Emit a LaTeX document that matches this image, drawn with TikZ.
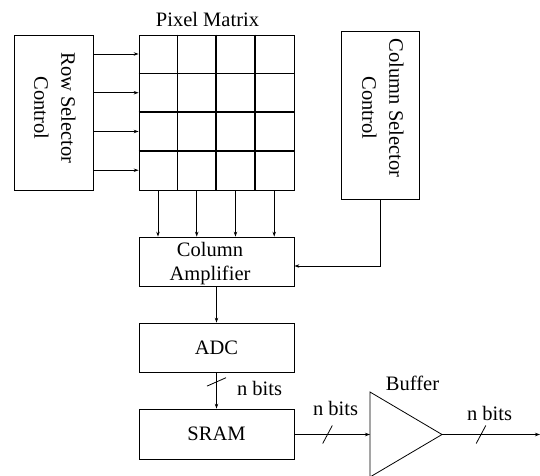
\documentclass[tikz,border=0pt]{standalone}
\usepackage{fontspec}
\setmainfont{Liberation Serif}
\usetikzlibrary{arrows.meta,calc}
\begin{document}
\begin{tikzpicture}[x=1pt,y=-1pt,
  font=\fontsize{20.5}{24}\selectfont,
  line width=0.8pt,
  box/.style={draw, inner sep=0pt, align=center},
  lbl/.style={inner sep=0pt, anchor=base},
  rlbl/.style={inner sep=0pt, rotate=-90, align=center, font=\fontsize{20.5}{27}\selectfont},
  gridline/.style={line width=1.3pt},
  arr/.style={-{Stealth[length=5pt,width=3.5pt]}},
  slash/.style={line width=0.8pt}]
\useasboundingbox (0,0) rectangle (540,475);

% boxes
\node[box, minimum width=79pt, minimum height=155pt] (row) at (53.5,112.5) {};
\node[rlbl] (rowtxt) at (55,108) {Row Selector\\Control};
\node[box, minimum width=155pt, minimum height=155pt] (mat) at (216.5,112.5) {};
\node[lbl] (mattxt) at (207.5,26) {Pixel Matrix};
\node[box, minimum width=78pt, minimum height=168pt] (col) at (380,115) {};
\node[rlbl] (coltxt) at (383,108) {Column Selector\\Control};
\node[box, minimum width=155pt, minimum height=49pt] (amp) at (216.5,261.5) {};
\node[lbl, align=center] (amptxt) at (210,280.5) {Column\\Amplifier};
\node[box, minimum width=155pt, minimum height=49pt] (adc) at (216.5,347.5) {ADC};
\node[box, minimum width=155pt, minimum height=50pt] (sram) at (216.5,434) {SRAM};

% grid of the pixel matrix
\foreach \i in {1,2,3} {
  \draw[gridline] ($(mat.north west)+(38.75*\i,0)$) -- ($(mat.south west)+(38.75*\i,0)$);
  \draw[gridline] ($(mat.north west)+(0,38.75*\i)$) -- ($(mat.north east)+(0,38.75*\i)$);
}

% row select arrows
\foreach \i in {0,1,2,3} {
  \coordinate (r\i) at ($(mat.north west)+(0,19.375+38.75*\i)$);
  \draw[arr] (row.east |- r\i) -- (r\i);
}
% column arrows
\foreach \i in {0,1,2,3} {
  \coordinate (c\i) at ($(mat.south west)+(19.375+38.75*\i,0)$);
  \draw[arr] (c\i) -- (amp.north -| c\i);
}

% column selector to amplifier
\coordinate (ampin) at ($(amp.east)+(0,4.5)$);
\draw[arr] (col.south) |- (ampin);

% amplifier -> ADC -> SRAM
\draw[arr] (amp.south) -- (adc.north);
\draw[arr] (adc.south) -- (sram.north);
\coordinate (s1) at ($(adc.south)+(0,9.5)$);
\draw[slash] ($(s1)+(-9.5,4.2)$) -- ($(s1)+(9.5,-4.2)$);
\node[lbl] (nb1) at (259.5,395) {n bits};

% buffer
\coordinate (bufin) at (370,434.5);
\coordinate (bufout) at (442,434.5);
\draw ($(bufin)+(0,-42.5)$) -- (bufout) -- ($(bufin)+(0,42.5)$) -- cycle;
\node[lbl] (buftxt) at (412.5,390.5) {Buffer};
\draw[arr] (sram.east |- bufin) -- (bufin);
\coordinate (s2) at (327.5,434.5);
\draw[slash] ($(s2)+(-4.8,9)$) -- ($(s2)+(4.8,-9)$);
\node[lbl] (nb2) at (335.5,415) {n bits};

\coordinate (out) at (540,434.5);
\draw[arr] (bufout) -- (out);
\coordinate (s3) at (481,434.5);
\draw[slash] ($(s3)+(-4.8,9)$) -- ($(s3)+(4.8,-9)$);
\node[lbl] (nb3) at (489.5,420) {n bits};
\end{tikzpicture}
\end{document}
